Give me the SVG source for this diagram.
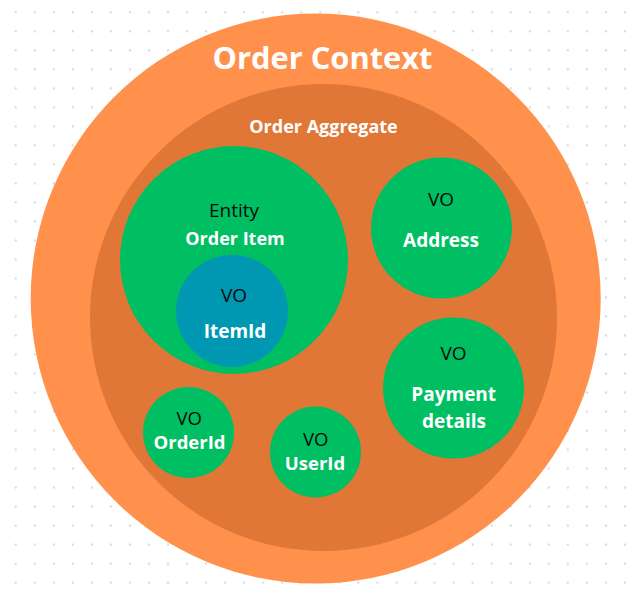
<svg xmlns="http://www.w3.org/2000/svg" width="635" height="594" viewBox="0 0 635 594">
<defs>
<pattern id="dots" patternUnits="userSpaceOnUse" x="6.2" y="2.8" width="19.04" height="19.01">
<circle cx="9.5" cy="9.5" r="1.2" fill="#d3d9e6"/>
</pattern>
<style>
.ctx{fill:#FF914D}
.agg{fill:#E07736}
.grn{fill:#00BF63}
.blu{fill:#0097B2}
.w{font-family:"Open Sans","Liberation Sans",sans-serif;font-weight:700;fill:#ffffff;text-anchor:middle}
.k{font-family:"Open Sans","Liberation Sans",sans-serif;font-weight:400;fill:#0a0a0a;text-anchor:middle}
</style>
</defs>
<rect width="635" height="594" fill="#ffffff"/>
<rect width="635" height="594" fill="url(#dots)"/>
<g id="order-context">
<circle class="ctx" cx="315.7" cy="298.5" r="285"/>
<text class="w" x="322.5" y="68.5" font-size="30.8">Order Context</text>
</g>
<g id="order-aggregate">
<circle class="agg" cx="323.5" cy="317.5" r="233.5"/>
<text class="w" x="323.5" y="133" font-size="18">Order Aggregate</text>
</g>
<g id="order-item">
<circle class="grn" cx="234" cy="260" r="114"/>
<text class="k" x="234" y="217" font-size="19">Entity</text>
<text class="w" x="235" y="244.5" font-size="18">Order Item</text>
</g>
<g id="item-id">
<circle class="blu" cx="232" cy="311" r="56"/>
<text class="k" x="234" y="302" font-size="19">VO</text>
<text class="w" x="235" y="338" font-size="19">ItemId</text>
</g>
<g id="address">
<circle class="grn" cx="441.5" cy="228" r="70.5"/>
<text class="k" x="441" y="206" font-size="19">VO</text>
<text class="w" x="441" y="247" font-size="19">Address</text>
</g>
<g id="payment-details">
<circle class="grn" cx="453.5" cy="388" r="70.5"/>
<text class="k" x="453.5" y="360" font-size="19">VO</text>
<text class="w" x="453.7" y="400.7" font-size="19">Payment</text>
<text class="w" x="454" y="427.7" font-size="19">details</text>
</g>
<g id="order-id">
<circle class="grn" cx="188.5" cy="432.5" r="45.5"/>
<text class="k" x="189.3" y="424.5" font-size="18.5">VO</text>
<text class="w" x="189.5" y="448.5" font-size="18.5">OrderId</text>
</g>
<g id="user-id">
<circle class="grn" cx="315.5" cy="452" r="45.5"/>
<text class="k" x="315.7" y="445.5" font-size="18.5">VO</text>
<text class="w" x="315" y="469.5" font-size="18.5">UserId</text>
</g>
<g id="connectors"></g>
</svg>
